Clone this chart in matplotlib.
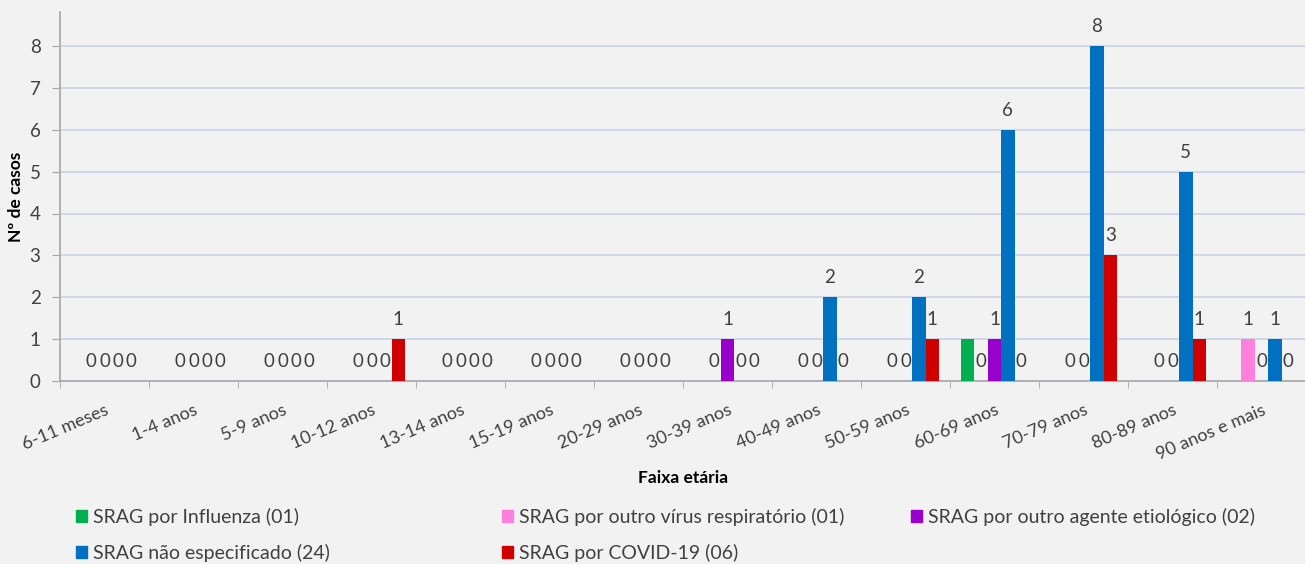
import numpy as np
import matplotlib.pyplot as plt
from matplotlib.patches import Patch

plt.rcParams['font.family'] = ['Lato', 'DejaVu Sans']

faixas = ['6-11 meses', '1-4 anos', '5-9 anos', '10-12 anos', '13-14 anos',
          '15-19 anos', '20-29 anos', '30-39 anos', '40-49 anos', '50-59 anos',
          '60-69 anos', '70-79 anos', '80-89 anos', '90 anos e mais']

nan = np.nan
influenza = [nan, nan, nan, nan, nan, nan, nan, nan, nan, nan, 1, nan, nan, nan]
outro_virus = [0, 0, 0, 0, 0, 0, 0, 0, 0, 0, 0, 0, 0, 1]
outro_agente = [0, 0, 0, 0, 0, 0, 0, 1, 0, 0, 1, 0, 0, 0]
nao_especificado = [0, 0, 0, 0, 0, 0, 0, 0, 2, 2, 6, 8, 5, 1]
covid = [0, 0, 0, 1, 0, 0, 0, 0, 0, 1, 0, 3, 1, 0]

# (nome, valores, cor, mostrar rotulo)
series = [
    ('SRAG por Influenza (01)', influenza, '#00B050', False),
    ('SRAG por outro vírus respiratório (01)', outro_virus, '#FF7FDD', True),
    ('SRAG por outro agente etiológico (02)', outro_agente, '#9900CC', True),
    ('SRAG não especificado (24)', nao_especificado, '#0070C0', True),
    ('SRAG por COVID-19 (06)', covid, '#D00000', True),
]

bg = '#F2F2F2'
txt = '#404040'

fig = plt.figure(figsize=(13.05, 5.64), dpi=100, facecolor=bg)
ax = fig.add_axes([60 / 1305, 1 - 381 / 564, 1246 / 1305, 369 / 564], facecolor=bg)

x = np.arange(len(faixas))
w = 0.15
for i, (nome, vals, cor, rotulo) in enumerate(series):
    vals = np.array(vals, dtype=float)
    pos = x + (i - 2) * w
    ok = ~np.isnan(vals)
    ax.bar(pos[ok], vals[ok], width=w, color=cor, zorder=3)
    if not rotulo:
        continue
    for px, v in zip(pos[ok], vals[ok]):
        ax.annotate(f'{int(v)}', (px, v), xytext=(0, 14), textcoords='offset points',
                    ha='center', va='center', fontsize=13.5, color=txt)

ax.set_xlim(-0.5, len(faixas) - 0.5)
ax.set_ylim(0, 369 / 41.875)
ax.set_yticks(range(0, 9))
ax.yaxis.grid(True, color='#C9D3E6', linewidth=1.2, zorder=0)
ax.set_axisbelow(True)

ax.set_xticks(x)
ax.set_xticklabels(faixas, rotation=23, ha='right', rotation_mode='anchor', fontsize=13, color=txt)
ax.set_xticks(np.arange(-0.5, len(faixas), 1), minor=True)
ax.tick_params(axis='x', which='major', length=0, pad=15)
ax.tick_params(axis='x', which='minor', length=5, color='#A6A6A6')
ax.tick_params(axis='y', length=6, color='#A6A6A6', labelsize=13.5, labelcolor=txt, pad=8)

for s in ['top', 'right']:
    ax.spines[s].set_visible(False)
for s in ['left', 'bottom']:
    ax.spines[s].set_color('#A6A6A6')
    ax.spines[s].set_linewidth(1.2)

ax.set_ylabel('Nº de casos', fontsize=12.5, fontweight='bold', color='black', labelpad=4)
fig.text(683 / 1305, 1 - 478 / 564, 'Faixa etária', ha='center', va='center',
         fontsize=12.5, fontweight='bold', color='black')

# legenda em tres colunas posicionadas separadamente
colunas = [(76, [0, 3]), (502, [1, 4]), (911, [2])]
for xpos, idx in colunas:
    handles = [Patch(color=series[k][2]) for k in idx]
    labels = [series[k][0] for k in idx]
    fig.legend(handles, labels, loc='upper left', bbox_to_anchor=(xpos / 1305, 1 - 508 / 564),
               frameon=False, fontsize=14, labelcolor=txt, handlelength=0.55,
               handleheight=0.55, handletextpad=0.3, labelspacing=0.9,
               borderpad=0, borderaxespad=0)

fig.savefig('out.png', dpi=100, facecolor=bg)
